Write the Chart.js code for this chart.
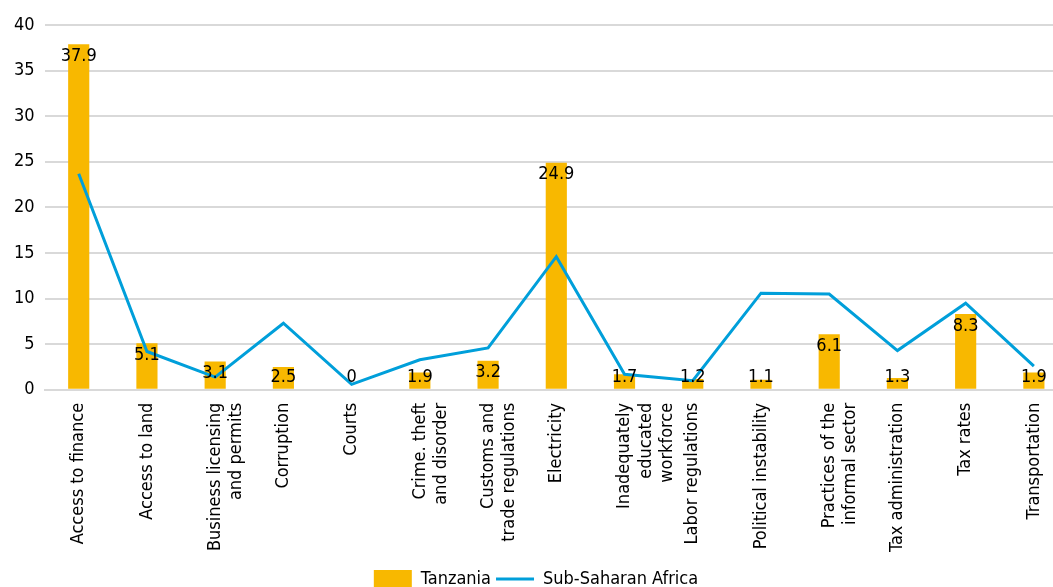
<!DOCTYPE html>
<html>
<head>
<meta charset="utf-8">
<script src="https://cdn.jsdelivr.net/npm/chart.js@4/dist/chart.umd.min.js"></script>
<style>
  html, body { margin: 0; padding: 0; background: #fff; overflow: hidden; }
  #wrap { position: relative; width: 1070px; height: 598px; }
</style>
</head>
<body>
<div id="wrap"><canvas id="myChart"></canvas></div>
<script>
let categories = [
  'Access to finance', 'Access to land', ['Business licensing', 'and permits'],
  'Corruption', 'Courts', ['Crime. theft', 'and disorder'],
  ['Customs and', 'trade regulations'], 'Electricity',
  ['Inadequately', 'educated', 'workforce'], 'Labor regulations',
  'Political instability', ['Practices of the', 'informal sector'],
  'Tax administration', 'Tax rates', 'Transportation'
];
let tanzania = [37.9, 5.1, 3.1, 2.5, 0, 1.9, 3.2, 24.9, 1.7, 1.2, 1.1, 6.1, 1.3, 8.3, 1.9];
let subSaharan = [23.7, 4.2, 1.4, 7.3, 0.6, 3.3, 4.6, 14.6, 1.7, 1.0, 10.6, 10.5, 4.3, 9.5, 2.6];

let fontFamily = "'Liberation Sans Narrow', 'DejaVu Sans Condensed', 'Liberation Sans', sans-serif";

// value labels just inside the top of each Tanzania bar
let barLabels = {
  id: 'barLabels',
  afterDatasetsDraw(chart) {
    let ctx = chart.ctx;
    let zero = chart.scales.y.getPixelForValue(0);
    ctx.save();
    ctx.font = '18px ' + fontFamily;
    ctx.fillStyle = '#000';
    ctx.textAlign = 'center';
    ctx.textBaseline = 'middle';
    chart.getDatasetMeta(1).data.forEach((bar, i) => {
      let y = Math.min(bar.y + 12, zero - 12);
      ctx.fillText(String(tanzania[i]), bar.x, y);
    });
    ctx.restore();
  }
};

let ctx = document.getElementById('myChart').getContext('2d');

let myChart = new Chart(ctx, {
  data: {
    labels: categories,
    datasets: [{
      type: 'line',
      label: 'Sub-Saharan Africa',
      data: subSaharan,
      borderColor: '#009FDA',
      backgroundColor: '#009FDA',
      borderWidth: 3,
      pointRadius: 0,
      pointStyle: 'line',
      tension: 0,
      order: 0
    }, {
      type: 'bar',
      label: 'Tanzania',
      data: tanzania,
      backgroundColor: '#F8B800',
      pointStyle: 'rect',
      categoryPercentage: 1,
      barPercentage: 0.31,
      order: 1
    }]
  },
  options: {
    responsive: true,
    maintainAspectRatio: false,
    animation: false,
    layout: {
      padding: { top: 25, left: 4, right: 2, bottom: 0 }
    },
    scales: {
      x: {
        grid: { display: false, drawTicks: false },
        border: { color: '#D9D9D9', width: 2 },
        ticks: {
          color: '#000',
          font: { family: fontFamily, size: 18 },
          minRotation: 90,
          maxRotation: 90,
          autoSkip: false,
          padding: 13
        }
      },
      y: {
        min: 0,
        max: 40,
        grid: { color: '#D9D9D9', lineWidth: 2, drawTicks: false },
        border: { display: false },
        ticks: {
          stepSize: 5,
          color: '#000',
          font: { family: fontFamily, size: 18 },
          padding: 10
        }
      }
    },
    plugins: {
      legend: {
        position: 'bottom',
        reverse: true,
        labels: {
          color: '#000',
          font: { family: fontFamily, size: 18 },
          usePointStyle: true,
          pointStyleWidth: 38,
          padding: 5
        }
      },
      tooltip: { enabled: false }
    }
  },
  plugins: [barLabels]
});
</script>
</body>
</html>
